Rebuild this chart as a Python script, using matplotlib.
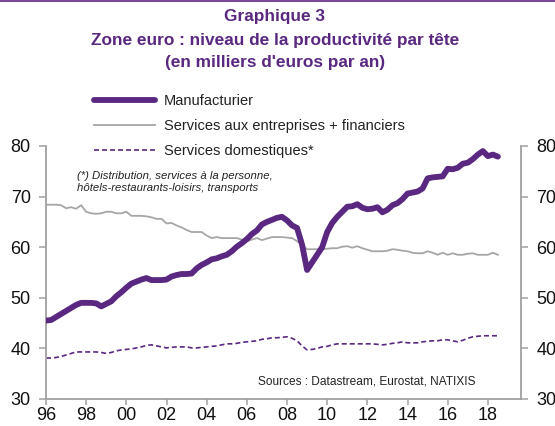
import matplotlib
matplotlib.use("Agg")
import matplotlib.pyplot as plt
import numpy as np

plt.rcParams['font.family'] = ['Liberation Sans', 'DejaVu Sans']

start_year = 1996
manufacturier = [
    45.5, 45.6, 46.2, 46.8, 47.4, 48.0, 48.6, 49.0,
    49.0, 49.0, 48.9, 48.3, 48.8, 49.3, 50.3, 51.1,
    52.0, 52.8, 53.2, 53.6, 53.9, 53.5, 53.5, 53.5,
    53.6, 54.2, 54.5, 54.7, 54.7, 54.8, 55.8, 56.5,
    57.0, 57.6, 57.8, 58.2, 58.5, 59.2, 60.1, 60.8,
    61.6, 62.6, 63.3, 64.5, 65.0, 65.4, 65.8, 66.0,
    65.3, 64.3, 63.8, 60.5, 55.5, 57.0, 58.5, 60.0,
    63.0, 64.8, 66.0, 67.0, 68.0, 68.1, 68.5, 67.8,
    67.5, 67.6, 67.9, 66.9, 67.4, 68.3, 68.7, 69.5,
    70.6, 70.8, 71.0, 71.6, 73.6, 73.8, 73.9, 74.0,
    75.5, 75.4, 75.7, 76.5, 76.7, 77.4, 78.3, 79.0,
    78.0, 78.3, 77.9,
]
services_entreprises = [
    68.4, 68.4, 68.4, 68.3, 67.7, 67.9, 67.6, 68.3,
    67.0, 66.7, 66.6, 66.7, 67.0, 67.0, 66.7, 66.7,
    67.0, 66.2, 66.2, 66.2, 66.1, 65.9, 65.6, 65.6,
    64.7, 64.8, 64.3, 63.9, 63.4, 63.0, 63.0, 63.0,
    62.3, 61.8, 62.0, 61.8, 61.8, 61.8, 61.8, 61.5,
    61.2, 61.5, 61.8, 61.4, 61.7, 62.0, 62.0, 62.0,
    61.9, 61.8, 61.2, 60.4, 59.6, 59.6, 59.6, 59.6,
    59.7, 59.8, 59.8, 60.1, 60.2, 59.9, 60.2, 59.8,
    59.5, 59.2, 59.2, 59.2, 59.3, 59.6, 59.5, 59.3,
    59.2, 58.9, 58.8, 58.8, 59.2, 58.9, 58.5, 58.9,
    58.5, 58.8, 58.5, 58.5, 58.7, 58.8, 58.5, 58.5,
    58.5, 58.9, 58.5,
]
services_domestiques = [
    38.1, 38.1, 38.2, 38.4, 38.7, 39.0, 39.3, 39.3,
    39.3, 39.3, 39.3, 39.2, 39.0, 39.2, 39.5, 39.7,
    39.8, 39.9, 40.1, 40.3, 40.6, 40.7, 40.5, 40.3,
    40.1, 40.2, 40.3, 40.3, 40.3, 40.1, 40.1, 40.2,
    40.3, 40.4, 40.5, 40.7, 40.9, 40.9, 41.0, 41.2,
    41.3, 41.4, 41.5, 41.8, 41.9, 42.1, 42.1, 42.2,
    42.3, 42.0, 41.5, 40.5, 39.7, 39.8, 40.0, 40.3,
    40.4, 40.7, 40.9, 40.9, 40.9, 40.9, 40.9, 40.9,
    40.9, 40.9, 40.8, 40.7, 40.8, 41.0, 41.1, 41.3,
    41.1, 41.1, 41.1, 41.3, 41.4, 41.5, 41.5, 41.7,
    41.7, 41.5, 41.3, 41.6, 42.0, 42.3, 42.4, 42.5,
    42.5, 42.5, 42.5,
]
tick_years = list(range(1996, 2019, 2))
tick_labels = ["96", "98", "00", "02", "04", "06", "08", "10", "12", "14", "16", "18"]
y_ticks = [30, 40, 50, 60, 70, 80]

labels = ["Manufacturier", "Services aux entreprises + financiers", "Services domestiques*"]

x = start_year + np.arange(len(manufacturier)) / 4.0

purple = "#5A2781"
grey_line = "#A6A6A6"
axis_grey = "#A0A0A0"

fig = plt.figure(figsize=(5.55, 4.26), dpi=100)
ax = fig.add_axes([46/555, 1-399/426, (521-46)/555, (399-146)/426])

l1, = ax.plot(x, manufacturier, color=purple, lw=4.2, solid_capstyle='round', zorder=3)
l2, = ax.plot(x, services_entreprises, color=grey_line, lw=1.3, zorder=2)
l3, = ax.plot(x, services_domestiques, color=purple, lw=1.2, ls=(0, (3, 1.8)), zorder=2)

ax.set_xlim(1996, 2019.65)
ax.set_ylim(30, 80)
ax.set_xticks(tick_years)
ax.set_xticklabels(tick_labels)
ax.set_yticks(y_ticks)
ax.set_yticklabels([str(v) for v in y_ticks])

ax.spines["top"].set_visible(False)
for s in ["left", "right", "bottom"]:
    ax.spines[s].set_color(axis_grey)
    ax.spines[s].set_linewidth(1.3)

ax.tick_params(axis='y', which='both', left=True, right=True, labelleft=True, labelright=True,
               direction='out', length=5, width=1.1, color=axis_grey, labelsize=13, pad=6,
               labelcolor="#111111")
ax.tick_params(axis='x', direction='out', length=4, width=1.1, color=axis_grey,
               labelsize=13, pad=1.5, labelcolor="#111111")

leg = ax.legend([l1, l2, l3], labels, loc='upper left', bbox_to_anchor=(88/555, 1-88/426),
                bbox_transform=fig.transFigure, frameon=False, fontsize=10.5,
                handlelength=4.2, handletextpad=0.6, labelspacing=0.75, borderaxespad=0)
for t in leg.get_texts():
    t.set_color("#222222")

fig.text(77/555, 1-182/426, "(*) Distribution, services à la personne,\nhôtels-restaurants-loisirs, transports",
         fontsize=8.2, style='italic', ha='left', va='center', color="#222222", linespacing=1.2)

fig.text(475/555, 1-381/426, "Sources : Datastream, Eurostat, NATIXIS",
         fontsize=8.6, ha='right', va='center', color="#222222")

title_color = "#5A2781"
for ty, txt in [(17, "Graphique 3"),
                (40, "Zone euro : niveau de la productivité par tête"),
                (62, "(en milliers d'euros par an)")]:
    fig.text(275/555, 1-ty/426, txt, fontsize=12.4, fontweight='bold', color=title_color,
             ha='center', va='center')

fig.add_artist(plt.Line2D([0, 1], [1-1/426, 1-1/426], transform=fig.transFigure,
                          color="#7B4A9B", lw=1.5))

fig.savefig("out.png", dpi=100)
